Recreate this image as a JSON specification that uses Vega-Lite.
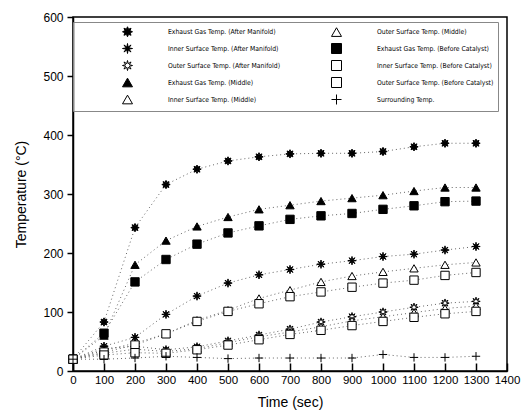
{
  "$schema": "https://vega.github.io/schema/vega-lite/v6.json",
  "width": 434,
  "height": 354,
  "autosize": {"type": "none"},
  "padding": {"left": 73, "top": 17, "right": 19, "bottom": 47},
  "background": "white",
  "config": {
    "view": {"stroke": "black", "strokeWidth": 1.5},
    "font": "Liberation Sans",
    "axis": {
      "grid": false,
      "domainColor": "black",
      "domainWidth": 1.5,
      "tickColor": "black",
      "tickWidth": 1.5,
      "labelFont": "Liberation Sans",
      "labelFontSize": 12,
      "labelColor": "black",
      "labelOverlap": false,
      "labelFlush": false,
      "titleFont": "Liberation Sans",
      "titleFontSize": 14,
      "titleFontWeight": "normal",
      "titleColor": "black"
    },
    "legend": {"orient": "none", "legendX": 0, "legendY": 5, "columns": 2, "title": null, "labelFont": "DejaVu Sans Condensed, Liberation Sans", "labelFontSize": 6.8, "labelColor": "black", "symbolOffset": 45, "labelOffset": 35, "padding": 4, "rowPadding": 2, "columnPadding": 5, "strokeColor": "#888", "symbolStrokeWidth": 1, "labelLimit": 300}
  },
  "datasets": {
    "temps": [
      {"t": 0, "s": "Exhaust Gas Temp. (After Manifold)", "v": 20},
      {"t": 100, "s": "Exhaust Gas Temp. (After Manifold)", "v": 83},
      {"t": 200, "s": "Exhaust Gas Temp. (After Manifold)", "v": 243},
      {"t": 300, "s": "Exhaust Gas Temp. (After Manifold)", "v": 316},
      {"t": 400, "s": "Exhaust Gas Temp. (After Manifold)", "v": 342},
      {"t": 500, "s": "Exhaust Gas Temp. (After Manifold)", "v": 356},
      {"t": 600, "s": "Exhaust Gas Temp. (After Manifold)", "v": 363},
      {"t": 700, "s": "Exhaust Gas Temp. (After Manifold)", "v": 368},
      {"t": 800, "s": "Exhaust Gas Temp. (After Manifold)", "v": 369},
      {"t": 900, "s": "Exhaust Gas Temp. (After Manifold)", "v": 369},
      {"t": 1000, "s": "Exhaust Gas Temp. (After Manifold)", "v": 372},
      {"t": 1100, "s": "Exhaust Gas Temp. (After Manifold)", "v": 380},
      {"t": 1200, "s": "Exhaust Gas Temp. (After Manifold)", "v": 386},
      {"t": 1300, "s": "Exhaust Gas Temp. (After Manifold)", "v": 386},
      {"t": 0, "s": "Inner Surface Temp. (After Manifold)", "v": 20},
      {"t": 100, "s": "Inner Surface Temp. (After Manifold)", "v": 42},
      {"t": 200, "s": "Inner Surface Temp. (After Manifold)", "v": 57},
      {"t": 300, "s": "Inner Surface Temp. (After Manifold)", "v": 96},
      {"t": 400, "s": "Inner Surface Temp. (After Manifold)", "v": 127},
      {"t": 500, "s": "Inner Surface Temp. (After Manifold)", "v": 149},
      {"t": 600, "s": "Inner Surface Temp. (After Manifold)", "v": 163},
      {"t": 700, "s": "Inner Surface Temp. (After Manifold)", "v": 172},
      {"t": 800, "s": "Inner Surface Temp. (After Manifold)", "v": 181},
      {"t": 900, "s": "Inner Surface Temp. (After Manifold)", "v": 187},
      {"t": 1000, "s": "Inner Surface Temp. (After Manifold)", "v": 194},
      {"t": 1100, "s": "Inner Surface Temp. (After Manifold)", "v": 198},
      {"t": 1200, "s": "Inner Surface Temp. (After Manifold)", "v": 205},
      {"t": 1300, "s": "Inner Surface Temp. (After Manifold)", "v": 211},
      {"t": 0, "s": "Outer Surface Temp. (After Manifold)", "v": 20},
      {"t": 100, "s": "Outer Surface Temp. (After Manifold)", "v": 38},
      {"t": 200, "s": "Outer Surface Temp. (After Manifold)", "v": 42},
      {"t": 300, "s": "Outer Surface Temp. (After Manifold)", "v": 36},
      {"t": 400, "s": "Outer Surface Temp. (After Manifold)", "v": 41},
      {"t": 500, "s": "Outer Surface Temp. (After Manifold)", "v": 51},
      {"t": 600, "s": "Outer Surface Temp. (After Manifold)", "v": 61},
      {"t": 700, "s": "Outer Surface Temp. (After Manifold)", "v": 71},
      {"t": 800, "s": "Outer Surface Temp. (After Manifold)", "v": 83},
      {"t": 900, "s": "Outer Surface Temp. (After Manifold)", "v": 92},
      {"t": 1000, "s": "Outer Surface Temp. (After Manifold)", "v": 100},
      {"t": 1100, "s": "Outer Surface Temp. (After Manifold)", "v": 108},
      {"t": 1200, "s": "Outer Surface Temp. (After Manifold)", "v": 115},
      {"t": 1300, "s": "Outer Surface Temp. (After Manifold)", "v": 118},
      {"t": 0, "s": "Exhaust Gas Temp. (Middle)", "v": 20},
      {"t": 100, "s": "Exhaust Gas Temp. (Middle)", "v": 60},
      {"t": 200, "s": "Exhaust Gas Temp. (Middle)", "v": 180},
      {"t": 300, "s": "Exhaust Gas Temp. (Middle)", "v": 221},
      {"t": 400, "s": "Exhaust Gas Temp. (Middle)", "v": 245},
      {"t": 500, "s": "Exhaust Gas Temp. (Middle)", "v": 261},
      {"t": 600, "s": "Exhaust Gas Temp. (Middle)", "v": 274},
      {"t": 700, "s": "Exhaust Gas Temp. (Middle)", "v": 281},
      {"t": 800, "s": "Exhaust Gas Temp. (Middle)", "v": 288},
      {"t": 900, "s": "Exhaust Gas Temp. (Middle)", "v": 293},
      {"t": 1000, "s": "Exhaust Gas Temp. (Middle)", "v": 298},
      {"t": 1100, "s": "Exhaust Gas Temp. (Middle)", "v": 305},
      {"t": 1200, "s": "Exhaust Gas Temp. (Middle)", "v": 311},
      {"t": 1300, "s": "Exhaust Gas Temp. (Middle)", "v": 311},
      {"t": 0, "s": "Inner Surface Temp. (Middle)", "v": 20},
      {"t": 100, "s": "Inner Surface Temp. (Middle)", "v": 35},
      {"t": 200, "s": "Inner Surface Temp. (Middle)", "v": 47},
      {"t": 300, "s": "Inner Surface Temp. (Middle)", "v": 63},
      {"t": 400, "s": "Inner Surface Temp. (Middle)", "v": 86},
      {"t": 500, "s": "Inner Surface Temp. (Middle)", "v": 103},
      {"t": 600, "s": "Inner Surface Temp. (Middle)", "v": 123},
      {"t": 700, "s": "Inner Surface Temp. (Middle)", "v": 137},
      {"t": 800, "s": "Inner Surface Temp. (Middle)", "v": 151},
      {"t": 900, "s": "Inner Surface Temp. (Middle)", "v": 161},
      {"t": 1000, "s": "Inner Surface Temp. (Middle)", "v": 168},
      {"t": 1100, "s": "Inner Surface Temp. (Middle)", "v": 174},
      {"t": 1200, "s": "Inner Surface Temp. (Middle)", "v": 180},
      {"t": 1300, "s": "Inner Surface Temp. (Middle)", "v": 184},
      {"t": 0, "s": "Outer Surface Temp. (Middle)", "v": 20},
      {"t": 100, "s": "Outer Surface Temp. (Middle)", "v": 30},
      {"t": 200, "s": "Outer Surface Temp. (Middle)", "v": 37},
      {"t": 300, "s": "Outer Surface Temp. (Middle)", "v": 33},
      {"t": 400, "s": "Outer Surface Temp. (Middle)", "v": 38},
      {"t": 500, "s": "Outer Surface Temp. (Middle)", "v": 48},
      {"t": 600, "s": "Outer Surface Temp. (Middle)", "v": 58},
      {"t": 700, "s": "Outer Surface Temp. (Middle)", "v": 66},
      {"t": 800, "s": "Outer Surface Temp. (Middle)", "v": 75},
      {"t": 900, "s": "Outer Surface Temp. (Middle)", "v": 85},
      {"t": 1000, "s": "Outer Surface Temp. (Middle)", "v": 92},
      {"t": 1100, "s": "Outer Surface Temp. (Middle)", "v": 99},
      {"t": 1200, "s": "Outer Surface Temp. (Middle)", "v": 106},
      {"t": 1300, "s": "Outer Surface Temp. (Middle)", "v": 110},
      {"t": 0, "s": "Exhaust Gas Temp. (Before Catalyst)", "v": 20},
      {"t": 100, "s": "Exhaust Gas Temp. (Before Catalyst)", "v": 64},
      {"t": 200, "s": "Exhaust Gas Temp. (Before Catalyst)", "v": 151},
      {"t": 300, "s": "Exhaust Gas Temp. (Before Catalyst)", "v": 189},
      {"t": 400, "s": "Exhaust Gas Temp. (Before Catalyst)", "v": 215},
      {"t": 500, "s": "Exhaust Gas Temp. (Before Catalyst)", "v": 234},
      {"t": 600, "s": "Exhaust Gas Temp. (Before Catalyst)", "v": 246},
      {"t": 700, "s": "Exhaust Gas Temp. (Before Catalyst)", "v": 257},
      {"t": 800, "s": "Exhaust Gas Temp. (Before Catalyst)", "v": 263},
      {"t": 900, "s": "Exhaust Gas Temp. (Before Catalyst)", "v": 267},
      {"t": 1000, "s": "Exhaust Gas Temp. (Before Catalyst)", "v": 274},
      {"t": 1100, "s": "Exhaust Gas Temp. (Before Catalyst)", "v": 280},
      {"t": 1200, "s": "Exhaust Gas Temp. (Before Catalyst)", "v": 287},
      {"t": 1300, "s": "Exhaust Gas Temp. (Before Catalyst)", "v": 288},
      {"t": 0, "s": "Inner Surface Temp. (Before Catalyst)", "v": 20},
      {"t": 100, "s": "Inner Surface Temp. (Before Catalyst)", "v": 32},
      {"t": 200, "s": "Inner Surface Temp. (Before Catalyst)", "v": 44},
      {"t": 300, "s": "Inner Surface Temp. (Before Catalyst)", "v": 63},
      {"t": 400, "s": "Inner Surface Temp. (Before Catalyst)", "v": 84},
      {"t": 500, "s": "Inner Surface Temp. (Before Catalyst)", "v": 101},
      {"t": 600, "s": "Inner Surface Temp. (Before Catalyst)", "v": 114},
      {"t": 700, "s": "Inner Surface Temp. (Before Catalyst)", "v": 126},
      {"t": 800, "s": "Inner Surface Temp. (Before Catalyst)", "v": 134},
      {"t": 900, "s": "Inner Surface Temp. (Before Catalyst)", "v": 142},
      {"t": 1000, "s": "Inner Surface Temp. (Before Catalyst)", "v": 149},
      {"t": 1100, "s": "Inner Surface Temp. (Before Catalyst)", "v": 154},
      {"t": 1200, "s": "Inner Surface Temp. (Before Catalyst)", "v": 162},
      {"t": 1300, "s": "Inner Surface Temp. (Before Catalyst)", "v": 167},
      {"t": 0, "s": "Outer Surface Temp. (Before Catalyst)", "v": 20},
      {"t": 100, "s": "Outer Surface Temp. (Before Catalyst)", "v": 27},
      {"t": 200, "s": "Outer Surface Temp. (Before Catalyst)", "v": 31},
      {"t": 300, "s": "Outer Surface Temp. (Before Catalyst)", "v": 30},
      {"t": 400, "s": "Outer Surface Temp. (Before Catalyst)", "v": 36},
      {"t": 500, "s": "Outer Surface Temp. (Before Catalyst)", "v": 44},
      {"t": 600, "s": "Outer Surface Temp. (Before Catalyst)", "v": 53},
      {"t": 700, "s": "Outer Surface Temp. (Before Catalyst)", "v": 62},
      {"t": 800, "s": "Outer Surface Temp. (Before Catalyst)", "v": 69},
      {"t": 900, "s": "Outer Surface Temp. (Before Catalyst)", "v": 77},
      {"t": 1000, "s": "Outer Surface Temp. (Before Catalyst)", "v": 84},
      {"t": 1100, "s": "Outer Surface Temp. (Before Catalyst)", "v": 91},
      {"t": 1200, "s": "Outer Surface Temp. (Before Catalyst)", "v": 97},
      {"t": 1300, "s": "Outer Surface Temp. (Before Catalyst)", "v": 101},
      {"t": 0, "s": "Surrounding Temp.", "v": 20},
      {"t": 100, "s": "Surrounding Temp.", "v": 20},
      {"t": 200, "s": "Surrounding Temp.", "v": 22},
      {"t": 300, "s": "Surrounding Temp.", "v": 25},
      {"t": 400, "s": "Surrounding Temp.", "v": 23},
      {"t": 500, "s": "Surrounding Temp.", "v": 21},
      {"t": 600, "s": "Surrounding Temp.", "v": 22},
      {"t": 700, "s": "Surrounding Temp.", "v": 22},
      {"t": 800, "s": "Surrounding Temp.", "v": 22},
      {"t": 900, "s": "Surrounding Temp.", "v": 22},
      {"t": 1000, "s": "Surrounding Temp.", "v": 28},
      {"t": 1100, "s": "Surrounding Temp.", "v": 23},
      {"t": 1200, "s": "Surrounding Temp.", "v": 23},
      {"t": 1300, "s": "Surrounding Temp.", "v": 25}
    ]
  },
  "data": {"name": "temps"},
  "encoding": {
    "x": {
      "field": "t", "type": "quantitative",
      "scale": {"domain": [0, 1400]},
      "axis": {"values": [0,100,200,300,400,500,600,700,800,900,1000,1100,1200,1300,1400], "format": "d", "labelOverlap": false, "labelFlush": false, "labelFontSize": 11.5, "tickSize": -8, "labelPadding": 11, "title": "Time (sec)", "titlePadding": 10}
    },
    "y": {
      "field": "v", "type": "quantitative",
      "scale": {"domain": [0, 600]},
      "axis": {"values": [0,100,200,300,400,500,600], "labelFlush": false, "tickSize": 6, "labelPadding": 4, "title": "Temperature (°C)", "titlePadding": 14}
    }
  },
  "layer": [
    {
      "mark": {"type": "line", "strokeDash": [1, 3], "strokeWidth": 0.9, "color": "#555"},
      "encoding": {
        "detail": {"field": "s"}
      }
    },
    {
      "mark": {"type": "point", "filled": true, "opacity": 1, "strokeWidth": 1},
      "encoding": {
        "shape": {
          "field": "s", "type": "nominal",
          "scale": {
            "domain": ["Exhaust Gas Temp. (After Manifold)", "Inner Surface Temp. (After Manifold)", "Outer Surface Temp. (After Manifold)", "Exhaust Gas Temp. (Middle)", "Inner Surface Temp. (Middle)", "Outer Surface Temp. (Middle)", "Exhaust Gas Temp. (Before Catalyst)", "Inner Surface Temp. (Before Catalyst)", "Outer Surface Temp. (Before Catalyst)", "Surrounding Temp."],
            "range": [
              "M1,0L0.508,0.211L0.707,0.707L0.211,0.508L0,1L-0.211,0.508L-0.707,0.707L-0.508,0.211L-1,0L-0.508,-0.211L-0.707,-0.707L-0.211,-0.508L0,-1L0.211,-0.508L0.707,-0.707L0.508,-0.211Z",
              "M1,0L0.277,0.115L0.707,0.707L0.115,0.277L0,1L-0.115,0.277L-0.707,0.707L-0.277,0.115L-1,0L-0.277,-0.115L-0.707,-0.707L-0.115,-0.277L0,-1L0.115,-0.277L0.707,-0.707L0.277,-0.115Z",
              "M1,0L0.37,0.153L0.707,0.707L0.153,0.37L0,1L-0.153,0.37L-0.707,0.707L-0.37,0.153L-1,0L-0.37,-0.153L-0.707,-0.707L-0.153,-0.37L0,-1L0.153,-0.37L0.707,-0.707L0.37,-0.153Z",
              "triangle-up",
              "triangle-up",
              "triangle-up",
              "square",
              "square",
              "square",
              "M-1,0L1,0M0,-1L0,1"
            ]
          }
        },
        "fill": {
          "field": "s", "type": "nominal",
          "scale": {
            "domain": ["Exhaust Gas Temp. (After Manifold)", "Inner Surface Temp. (After Manifold)", "Outer Surface Temp. (After Manifold)", "Exhaust Gas Temp. (Middle)", "Inner Surface Temp. (Middle)", "Outer Surface Temp. (Middle)", "Exhaust Gas Temp. (Before Catalyst)", "Inner Surface Temp. (Before Catalyst)", "Outer Surface Temp. (Before Catalyst)", "Surrounding Temp."],
            "range": ["black", "black", "white", "black", "white", "white", "black", "white", "white", "white"]
          }
        },
        "stroke": {
          "field": "s", "type": "nominal",
          "scale": {
            "domain": ["Exhaust Gas Temp. (After Manifold)", "Inner Surface Temp. (After Manifold)", "Outer Surface Temp. (After Manifold)", "Exhaust Gas Temp. (Middle)", "Inner Surface Temp. (Middle)", "Outer Surface Temp. (Middle)", "Exhaust Gas Temp. (Before Catalyst)", "Inner Surface Temp. (Before Catalyst)", "Outer Surface Temp. (Before Catalyst)", "Surrounding Temp."],
            "range": ["black", "black", "black", "black", "black", "black", "black", "black", "black", "black"]
          }
        },
        "size": {"value": 70}
      }
    }
  ]
}
